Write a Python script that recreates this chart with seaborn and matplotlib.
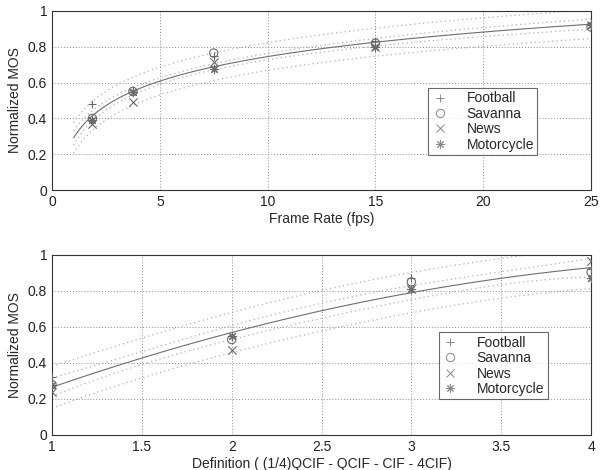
import numpy as np
import pandas as pd
import matplotlib
matplotlib.use("Agg")
import matplotlib.pyplot as plt
import seaborn as sns

# ---- data ----
videos = ["Football", "Savanna", "News", "Motorcycle"]
frame_rates = [1.875, 3.75, 7.5, 15, 25]
fr_football = [0.48, 0.56, 0.75, 0.83, 0.93]
fr_savanna = [0.40, 0.55, 0.765, 0.82, 0.91]
fr_news = [0.37, 0.49, 0.715, 0.80, 0.92]
fr_motorcycle = [0.39, 0.55, 0.675, 0.80, 0.92]

definitions = [1, 2, 3, 4]
def_football = [0.32, 0.55, 0.87, 0.92]
def_savanna = [0.28, 0.53, 0.85, 0.905]
def_news = [0.24, 0.47, 0.81, 0.965]
def_motorcycle = [0.28, 0.55, 0.81, 0.87]

xticks_top = [0, 5, 10, 15, 20, 25]
xticks_bot = [1, 1.5, 2, 2.5, 3, 3.5, 4]
yticks = [0, 0.2, 0.4, 0.6, 0.8, 1]

sns.set_style("white")
plt.rcParams["font.family"] = ["Liberation Sans", "DejaVu Sans"]

markers = {"Football": "+", "Savanna": "o", "News": "x", "Motorcycle": (8, 2, 0)}
mcol = "#6a6a6a"

def make_df(xs, series):
    rows = []
    for name, vals in zip(videos, series):
        for x, v in zip(xs, vals):
            rows.append((name, x, v))
    return pd.DataFrame(rows, columns=["video", "x", "y"])

df_top = make_df(frame_rates, [fr_football, fr_savanna, fr_news, fr_motorcycle])
df_bot = make_df(definitions, [def_football, def_savanna, def_news, def_motorcycle])

def fit_bands(x, y, basis, grid):
    X = basis(np.asarray(x, float))
    y = np.asarray(y, float)
    beta, *_ = np.linalg.lstsq(X, y, rcond=None)
    resid = y - X @ beta
    dof = len(y) - X.shape[1]
    s2 = resid @ resid / dof
    XtXi = np.linalg.inv(X.T @ X)
    G = basis(grid)
    yhat = G @ beta
    lev = np.einsum("ij,jk,ik->i", G, XtXi, G)
    t = 2.1
    ci = t * np.sqrt(s2 * lev)
    pi = t * np.sqrt(s2 * (1 + lev))
    return yhat, ci, pi

fig = plt.figure(figsize=(6.15, 4.70), dpi=100)
ax1 = fig.add_axes([0.0846, 0.5957, 0.8765, 0.381])
ax2 = fig.add_axes([0.0846, 0.0745, 0.8765, 0.383])

def draw(ax, df, basis, grid, legend_box):
    yhat, ci, pi = fit_bands(df["x"], df["y"], basis, grid)
    sns.lineplot(x=grid, y=yhat, ax=ax, color="#6e6e6e", lw=0.8, zorder=3)
    for lo_hi in (yhat + ci, yhat - ci, yhat + pi, yhat - pi):
        sns.lineplot(x=grid, y=lo_hi, ax=ax, color="#b0b0b0", lw=0.9,
                     linestyle=(0, (1, 2.5)), zorder=2)
    handles = []
    for name in videos:
        sub = df[df["video"] == name]
        m = markers[name]
        if m == "o":
            sns.scatterplot(x=sub["x"], y=sub["y"], ax=ax, marker="o", s=36,
                            facecolors="none", edgecolor=mcol, linewidth=0.8, zorder=4)
        else:
            sns.scatterplot(x=sub["x"], y=sub["y"], ax=ax, marker=m, s=36,
                            color=mcol, linewidth=0.8, zorder=4)
        h = plt.Line2D([], [], linestyle="none", marker=m, markersize=6,
                       markerfacecolor="none", markeredgecolor="#888888",
                       markeredgewidth=0.7, label=name)
        handles.append(h)
    leg = ax.legend(handles=handles, loc="upper left", bbox_to_anchor=legend_box,
                    frameon=True, fancybox=False, fontsize=10, handlelength=1.2,
                    handletextpad=1.3, borderpad=0.25, labelspacing=0.1,
                    borderaxespad=0)
    leg.get_frame().set_edgecolor("#444444")
    leg.get_frame().set_linewidth(0.8)
    ax.grid(True, linestyle=(0, (1, 2)), color="#8a8a8a", linewidth=0.7)
    for sp in ax.spines.values():
        sp.set_color("#333333")
        sp.set_linewidth(0.8)
    ax.tick_params(direction="in", length=3, labelsize=10, colors="#222222")
    ax.set_yticks(yticks)
    ax.set_yticklabels([f"{v:g}" for v in yticks])
    ax.set_ylim(0, 1)
    ax.set_ylabel("Normalized MOS", fontsize=10)

draw(ax1, df_top, lambda x: np.column_stack([np.ones_like(x), np.log(x)]),
     np.linspace(1, 25, 200), (0.698, 0.57))
ax1.set_xlim(0, 25)
ax1.set_xticks(xticks_top)
ax1.set_xlabel("Frame Rate (fps)", fontsize=10, labelpad=2)

draw(ax2, df_bot, lambda x: np.column_stack([np.ones_like(x), x, x ** 2]),
     np.linspace(1, 4, 200), (0.717, 0.57))
ax2.set_xlim(1, 4)
ax2.set_xticks(xticks_bot)
ax2.set_xticklabels([f"{v:g}" for v in xticks_bot])
ax2.set_xlabel("Definition ( (1/4)QCIF - QCIF - CIF - 4CIF)", fontsize=10, labelpad=2)

fig.savefig("out.png", dpi=100)
